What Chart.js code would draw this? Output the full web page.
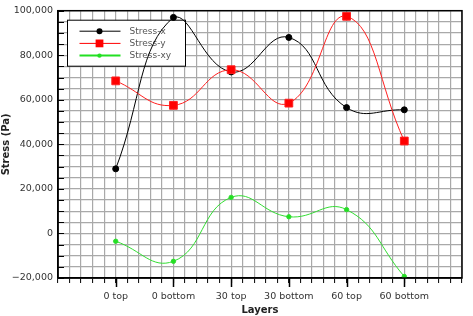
<!DOCTYPE html>
<html>
<head>
<meta charset="utf-8">
<script src="https://cdn.jsdelivr.net/npm/chart.js@4.4.1/dist/chart.umd.min.js"></script>
<style>
  html, body { margin: 0; padding: 0; background: #fff; }
  #wrap { width: 473px; height: 316px; }
</style>
</head>
<body>
<div id="wrap"><canvas id="stressChart"></canvas></div>
<script>
const layers = ['0 top', '0 bottom', '30 top', '30 bottom', '60 top', '60 bottom'];
const stressX = [29000, 97000, 72500, 88000, 56500, 55500];
const stressY = [68500, 57500, 73500, 58500, 97500, 41500];
const stressXY = [-3500, -12500, 16200, 7500, 10700, -19300];
const yLabelValues = [-20000, 0, 20000, 40000, 60000, 80000, 100000];

const FONT = 'DejaVu Sans';
const GRID = '#a9a9a9';

function toPoints(values) {
  return values.map((v, i) => ({ x: i, y: v }));
}

function formatStress(v) {
  const s = Math.abs(v).toLocaleString('en-US');
  return v < 0 ? '\u2212' + s : s;
}

const legendItems = [
  { label: 'Stress-x', color: '#000000', style: 'circle', radius: 3 },
  { label: 'Stress-y', color: '#ff0000', style: 'rect', radius: 5.5 },
  { label: 'Stress-xy', color: '#22e022', style: 'circle', radius: 2.2 },
];

// legend sits inside the plot, under the curves
const insideLegend = {
  id: 'insideLegend',
  beforeDatasetsDraw(chart) {
    const { ctx, chartArea } = chart;
    const left = chartArea.left + 9.5;
    const top = chartArea.top + 9.5;
    ctx.save();
    ctx.fillStyle = '#fff';
    ctx.strokeStyle = '#000';
    ctx.lineWidth = 1;
    ctx.fillRect(left, top, 118, 46);
    ctx.strokeRect(left, top, 118, 46);
    ctx.font = '9px ' + FONT;
    ctx.textBaseline = 'middle';
    legendItems.forEach((item, i) => {
      const y = top + 11 + i * 12.2;
      ctx.strokeStyle = item.color;
      ctx.lineWidth = i === 2 ? 2 : 1;
      ctx.beginPath();
      ctx.moveTo(left + 12, y);
      ctx.lineTo(left + 53, y);
      ctx.stroke();
      ctx.fillStyle = item.color;
      Chart.helpers.drawPoint(ctx, { pointStyle: item.style, radius: item.radius, borderWidth: 0 }, left + 32, y);
      ctx.fillStyle = '#555';
      ctx.fillText(item.label, left + 62, y);
    });
    ctx.restore();
  },
  afterDraw(chart) {
    const { ctx, chartArea, scales } = chart;
    ctx.save();
    ctx.strokeStyle = '#000';
    ctx.lineWidth = 1;
    // inward ticks on the y axis
    scales.y.ticks.forEach((t) => {
      const py = Math.round(scales.y.getPixelForValue(t.value)) + 0.5;
      ctx.beginPath();
      ctx.moveTo(chartArea.left, py);
      ctx.lineTo(chartArea.left + 6, py);
      ctx.stroke();
    });
    // longer ticks under each layer
    ctx.lineWidth = 1.5;
    layers.forEach((_, i) => {
      const px = Math.round(scales.x.getPixelForValue(i)) + 0.5;
      ctx.beginPath();
      ctx.moveTo(px, chartArea.bottom);
      ctx.lineTo(px, chartArea.bottom + 9);
      ctx.stroke();
    });
    ctx.strokeRect(chartArea.left, chartArea.top, chartArea.right - chartArea.left, chartArea.bottom - chartArea.top);
    ctx.restore();
  },
};

const ctx = document.getElementById('stressChart');

new Chart(ctx, {
  type: 'line',
  data: {
    datasets: [
      {
        label: 'Stress-x',
        data: toPoints(stressX),
        borderColor: '#000000',
        backgroundColor: '#000000',
        borderWidth: 1,
        pointRadius: 3,
        pointStyle: 'circle',
        tension: 0.45,
        order: 3,
      },
      {
        label: 'Stress-y',
        data: toPoints(stressY),
        borderColor: '#ff2020',
        backgroundColor: '#ff0000',
        borderWidth: 1,
        pointRadius: 5.5,
        pointStyle: 'rect',
        tension: 0.45,
        order: 1,
      },
      {
        label: 'Stress-xy',
        data: toPoints(stressXY),
        borderColor: '#33dd33',
        backgroundColor: '#22e022',
        borderWidth: 1,
        pointRadius: 2.2,
        pointStyle: 'circle',
        tension: 0.45,
        order: 2,
      },
    ],
  },
  options: {
    responsive: true,
    maintainAspectRatio: false,
    animation: false,
    layout: { padding: { top: 5, right: 11, left: 0, bottom: 0 } },
    plugins: {
      legend: { display: false },
      tooltip: { enabled: false },
    },
    scales: {
      x: {
        type: 'linear',
        min: -1,
        max: 6,
        afterFit: (scale) => { scale.height = 38; },
        grid: {
          color: GRID,
          lineWidth: 1.2,
          tickColor: '#000',
          tickWidth: 1,
          tickLength: 5,
        },
        border: { display: true, color: '#000', width: 1.5 },
        ticks: {
          stepSize: 0.2,
          autoSkip: false,
          maxTicksLimit: 100,
          maxRotation: 0,
          minRotation: 0,
          padding: 8,
          color: '#333',
          font: { family: FONT, size: 9.5 },
          callback: (value) => {
            const r = Math.round(value * 10) / 10;
            if (Number.isInteger(r) && r >= 0 && r < layers.length) return layers[r];
            return '';
          },
        },
        title: {
          display: true,
          text: 'Layers',
          color: '#222',
          font: { family: FONT, size: 10, weight: 'bold' },
          padding: { top: 0, bottom: 0 },
        },
      },
      y: {
        min: -20000,
        max: 100000,
        afterFit: (scale) => { scale.width = 58; },
        grid: {
          color: GRID,
          lineWidth: 1.2,
          drawTicks: false,
        },
        border: { display: true, color: '#000', width: 1.5 },
        ticks: {
          stepSize: 5000,
          autoSkip: false,
          maxTicksLimit: 100,
          padding: 5,
          color: '#333',
          font: { family: FONT, size: 9.5 },
          callback: (value) => (yLabelValues.includes(value) ? formatStress(value) : ''),
        },
        title: {
          display: true,
          text: 'Stress (Pa)',
          color: '#222',
          font: { family: FONT, size: 10, weight: 'bold' },
          padding: { top: 0, bottom: 0 },
        },
      },
    },
  },
  plugins: [insideLegend],
});
</script>
</body>
</html>
